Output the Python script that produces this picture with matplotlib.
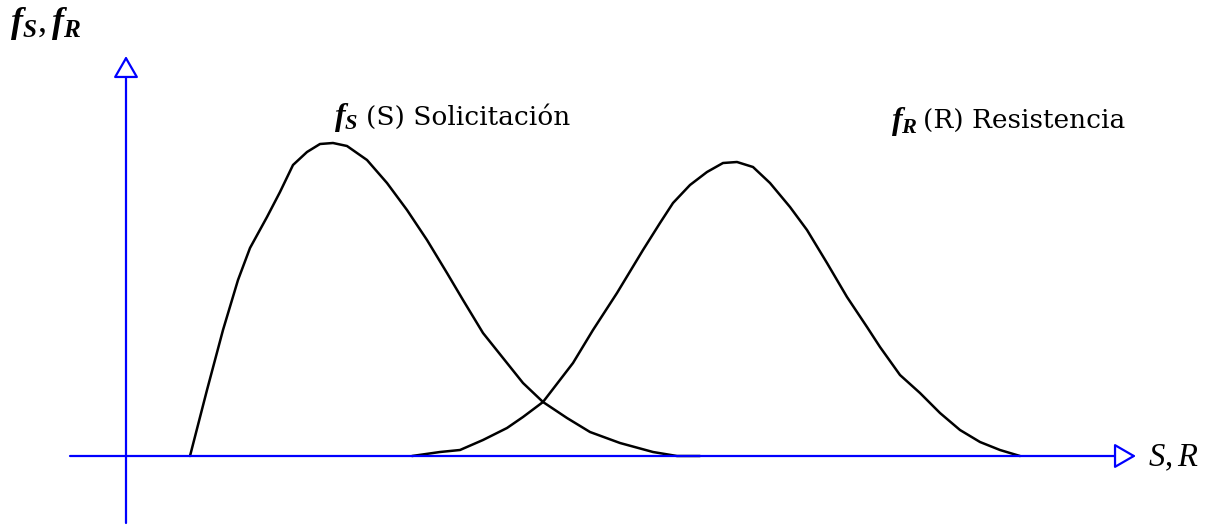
import matplotlib
matplotlib.use("Agg")
import matplotlib.pyplot as plt

plt.rcParams['mathtext.fontset'] = 'custom'
plt.rcParams['mathtext.bf'] = 'Liberation Serif:bold:italic'
plt.rcParams['mathtext.it'] = 'Liberation Serif:italic'
plt.rcParams['mathtext.rm'] = 'Liberation Serif'

# Hand-drawn density curves (image pixel coordinates)
s_x = [190, 207, 223, 238, 250, 267, 280, 293, 307, 320, 333, 347, 367, 387, 407, 427,
       447, 463, 483, 507, 523, 543, 567, 590, 620, 653, 677, 700]
s_y = [456, 390, 330, 280, 248, 217, 192, 165, 152, 144, 143, 146, 160, 183, 210, 240,
       273, 300, 333, 363, 383, 402, 418, 432, 443, 452, 456, 456]

r_x = [412, 440, 460, 483, 507, 523, 543, 573, 593, 617, 643, 660, 673, 690, 707, 723,
       737, 753, 770, 790, 807, 827, 847, 867, 880, 900, 920, 940, 960, 980, 1000, 1020]
r_y = [456, 452, 450, 440, 428, 417, 402, 363, 330, 293, 250, 223, 203, 185, 172, 163,
       162, 167, 183, 207, 230, 263, 297, 327, 347, 375, 393, 413, 430, 442, 450, 456]

axis_origin = (126, 456)
x_axis_ends = (70, 1136)
y_axis_ends = (523, 56)

fig = plt.figure(figsize=(12.13, 5.27), dpi=100)
ax = fig.add_axes([0, 0, 1, 1])
ax.set_xlim(0, 1213)
ax.set_ylim(527, 0)
ax.axis('off')

blue = (0, 0, 1)
arrow = dict(arrowstyle='-|>,head_length=13.5,head_width=7.8', mutation_scale=1,
             fc='white', ec=blue, lw=1.6, shrinkA=0, shrinkB=0)
ax.annotate('', xy=(x_axis_ends[1], axis_origin[1]), xytext=(x_axis_ends[0], axis_origin[1]),
            arrowprops=arrow)
ax.annotate('', xy=(axis_origin[0], y_axis_ends[1]), xytext=(axis_origin[0], y_axis_ends[0]),
            arrowprops=arrow)

ax.plot(s_x, s_y, color='black', lw=1.8, solid_joinstyle='round', solid_capstyle='round')
ax.plot(r_x, r_y, color='black', lw=1.8, solid_joinstyle='round', solid_capstyle='round')

ax.text(10, 24, r'$\mathbf{f_S},\mathbf{f_R}$', fontsize=26, va='center', ha='left')
ax.text(1148, 457, r'$\mathit{S},\mathit{R}$', fontsize=23.5, va='center', ha='left')
ax.text(334, 117, r'$\mathbf{f_S}$', fontsize=23, va='center', ha='left')
ax.text(366, 117, '(S) Solicitación', fontsize=19, va='center', ha='left',
        family='DejaVu Serif')
ax.text(891, 121, r'$\mathbf{f_R}$', fontsize=23, va='center', ha='left')
ax.text(923, 121, '(R) Resistencia', fontsize=19, va='center', ha='left',
        family='DejaVu Serif')

fig.savefig('out.png', dpi=100)
